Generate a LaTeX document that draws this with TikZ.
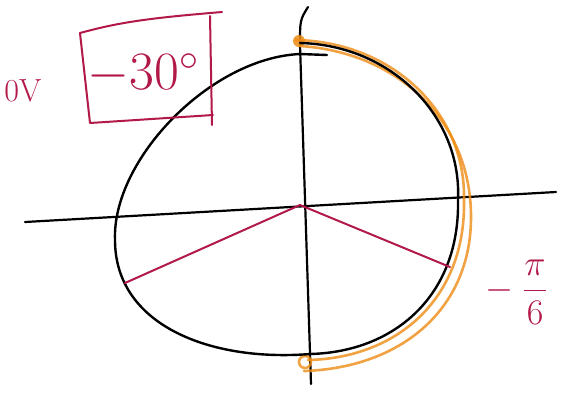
\RequirePackage{fix-cm}
\documentclass[tikz,border=0pt]{standalone}
\usepackage{amsmath}
\usepackage{xcolor}
\usetikzlibrary{calc}
\definecolor{ink}{RGB}{178,24,72}
\definecolor{hl}{RGB}{238,140,20}
\tikzset{
  axisl/.style={line width=2.2pt},
  loopl/.style={line width=2.4pt},
  arm/.style={draw=ink, line width=2pt},
  hlarc/.style={draw=hl, line width=2.6pt, opacity=0.8},
  boxl/.style={draw=ink, line width=2pt},
  handtxt/.style={text=ink, inner sep=0pt},
  every picture/.style={line cap=round, line join=round}
}

\begin{document}
\begin{tikzpicture}[x=1pt,y=-1pt]
  \useasboundingbox (0,0) rectangle (573,392);
  % axes
  \coordinate (o) at (300,205);
  \coordinate (xl) at (25,222);
  \coordinate (xr) at (556,192);
  \coordinate (yt) at (308,7);
  \coordinate (yb) at (311,384);
  \draw[axisl] (xl) -- (xr);
  \draw[axisl] (yt) .. controls (300,20) .. (300,45) -- (yb);
  % highlighted right half
  \draw[hlarc] (296,40) .. controls (392,42) and (466,112) .. (464,200)
                        .. controls (466,298) and (398,358) .. (308,360);
  \draw[hlarc] (300,46) .. controls (395,52) and (470,118) .. (471,215)
                        .. controls (472,310) and (400,368) .. (304,371);
  \fill[hl, opacity=0.85] (299,41) circle (6);
  \draw[hlarc] (305,362) circle (6);
  % the loop
  \coordinate (top) at (300,43);
  \coordinate (rt) at (458,200);
  \coordinate (bot) at (310,354);
  \coordinate (lf) at (115,240);
  \draw[loopl] (top) .. controls (390,45) and (462,115) .. (rt)
                     .. controls (460,295) and (395,352) .. (bot);
  \draw[loopl] (bot) .. controls (210,362) and (115,325) .. (lf)
                     .. controls (112,160) and (210,58) .. (300,54) -- (327,55);
  % arms at -30 degrees
  \coordinate (pl) at (125,283);
  \coordinate (pr) at (450,267);
  \draw[arm] (pl) -- (o) -- (pr);
  % labels
  \draw[boxl] (80,33) .. controls (120,22) and (150,18) .. (222,12);
  \draw[boxl] (80,33) -- (90,123) -- (213,115);
  \draw[boxl] (210,16) -- (212,125);
  \node[handtxt, font=\fontsize{32}{36}\selectfont] (ov) at (23,91) {$\mathrm{0V}$};
  \node[handtxt, font=\fontsize{54}{60}\selectfont] (deg) at (143,74) {$-30^\circ$};
  \node[handtxt, font=\fontsize{36}{40}\selectfont] (ang) at (516,292) {$-\;\dfrac{\pi}{6}$};
\end{tikzpicture}
\end{document}
